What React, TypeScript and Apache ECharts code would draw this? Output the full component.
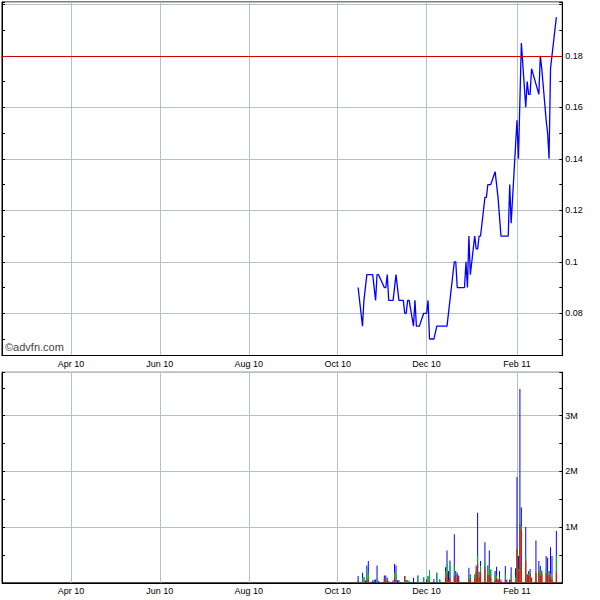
import React, { useEffect, useRef } from "react";
import * as echarts from "echarts";

// ---- axis range & month ticks ----
const axisStartDate = "2010-02-12T17:00:00Z";
const axisEndDate = "2011-03-04T02:00:00Z";
const monthTicks = ["2010-04-01", "2010-06-01", "2010-08-01", "2010-10-01", "2010-12-01", "2011-02-01"];
const priceLabelValues = [0.08, 0.1, 0.12, 0.14, 0.16, 0.18];
const volumeLabelValues = [1000, 2000, 3000]; // thousands of shares
const referencePrice = 0.18;

// ---- price (vertices) ----
const priceDates = [
  "2010-10-15", "2010-10-18", "2010-10-19", "2010-10-21", "2010-10-25", "2010-10-27", "2010-10-28", "2010-10-29",
  "2010-11-02", "2010-11-03", "2010-11-04", "2010-11-05", "2010-11-08", "2010-11-10", "2010-11-12", "2010-11-15",
  "2010-11-16", "2010-11-17", "2010-11-18", "2010-11-19", "2010-11-22", "2010-11-23", "2010-11-24", "2010-11-26",
  "2010-11-29", "2010-12-01", "2010-12-02", "2010-12-03", "2010-12-06", "2010-12-08", "2010-12-15", "2010-12-20",
  "2010-12-21", "2010-12-22", "2010-12-27", "2010-12-28", "2010-12-29", "2010-12-30", "2010-12-31", "2011-01-03",
  "2011-01-04", "2011-01-05", "2011-01-06", "2011-01-07", "2011-01-10", "2011-01-11", "2011-01-12", "2011-01-14",
  "2011-01-17", "2011-01-19", "2011-01-21", "2011-01-26", "2011-01-27", "2011-01-28", "2011-02-01", "2011-02-02",
  "2011-02-04", "2011-02-07", "2011-02-08", "2011-02-09", "2011-02-10", "2011-02-11", "2011-02-16", "2011-02-17",
  "2011-02-18", "2011-02-21", "2011-02-22", "2011-02-23", "2011-02-24", "2011-02-28",
];
const priceValues = [
  0.09, 0.075, 0.085, 0.095, 0.095, 0.085, 0.095, 0.095,
  0.09, 0.09, 0.095, 0.085, 0.085, 0.095, 0.085, 0.085,
  0.08, 0.08, 0.085, 0.085, 0.075, 0.085, 0.075, 0.075,
  0.08, 0.08, 0.085, 0.07, 0.07, 0.075, 0.075, 0.1,
  0.1, 0.09, 0.09, 0.1, 0.09, 0.11, 0.095, 0.11,
  0.105, 0.105, 0.11, 0.11, 0.125, 0.125, 0.13, 0.13,
  0.135, 0.125, 0.11, 0.11, 0.13, 0.115, 0.155, 0.14,
  0.185, 0.16, 0.17, 0.165, 0.165, 0.175, 0.165, 0.18,
  0.175, 0.155, 0.15, 0.14, 0.175, 0.195,
];

// ---- volume (thousands of shares), one entry per trading day ----
const tradingDays = [
  "2010-10-15", "2010-10-18", "2010-10-19", "2010-10-20", "2010-10-21", "2010-10-22", "2010-10-25", "2010-10-26",
  "2010-10-27", "2010-10-28", "2010-10-29", "2010-11-01", "2010-11-02", "2010-11-03", "2010-11-04", "2010-11-05",
  "2010-11-08", "2010-11-09", "2010-11-10", "2010-11-11", "2010-11-12", "2010-11-15", "2010-11-16", "2010-11-17",
  "2010-11-18", "2010-11-19", "2010-11-22", "2010-11-23", "2010-11-24", "2010-11-25", "2010-11-26", "2010-11-29",
  "2010-11-30", "2010-12-01", "2010-12-02", "2010-12-03", "2010-12-06", "2010-12-07", "2010-12-08", "2010-12-09",
  "2010-12-10", "2010-12-13", "2010-12-14", "2010-12-15", "2010-12-16", "2010-12-17", "2010-12-20", "2010-12-21",
  "2010-12-22", "2010-12-23", "2010-12-24", "2010-12-27", "2010-12-28", "2010-12-29", "2010-12-30", "2010-12-31",
  "2011-01-03", "2011-01-04", "2011-01-05", "2011-01-06", "2011-01-07", "2011-01-10", "2011-01-11", "2011-01-12",
  "2011-01-13", "2011-01-14", "2011-01-17", "2011-01-18", "2011-01-19", "2011-01-20", "2011-01-21", "2011-01-24",
  "2011-01-25", "2011-01-26", "2011-01-27", "2011-01-28", "2011-01-31", "2011-02-01", "2011-02-02", "2011-02-03",
  "2011-02-04", "2011-02-07", "2011-02-08", "2011-02-09", "2011-02-10", "2011-02-11", "2011-02-14", "2011-02-15",
  "2011-02-16", "2011-02-17", "2011-02-18", "2011-02-21", "2011-02-22", "2011-02-23", "2011-02-24", "2011-02-25",
  "2011-02-28",
];
const volSell = [
  30, 20, 0, 0, 60, 50, 0, 0, 0, 20, 0, 0, 70, 40, 30, 0,
  0, 100, 50, 0, 0, 0, 120, 0, 0, 0, 0, 0, 0, 0, 0, 0,
  0, 20, 0, 30, 0, 0, 0, 0, 0, 0, 100, 170, 50, 80, 120, 70,
  140, 50, 0, 0, 0, 0, 50, 80, 80, 200, 350, 100, 200, 280, 0, 150,
  140, 80, 50, 80, 60, 100, 0, 50, 20, 0, 0, 50, 20, 610, 200, 1050,
  940, 400, 150, 120, 160, 90, 180, 0, 200, 120, 150, 180, 150, 150, 100, 60,
  200,
];
const volMid = [
  0, 70, 100, 0, 120, 130, 0, 0, 0, 60, 0, 0, 0, 20, 0, 30,
  0, 80, 120, 0, 45, 0, 0, 45, 45, 30, 0, 0, 0, 130, 0, 100,
  0, 0, 120, 190, 0, 0, 180, 0, 60, 0, 100, 160, 0, 250, 180, 0,
  0, 0, 0, 0, 0, 0, 50, 40, 70, 40, 130, 50, 100, 120, 0, 60,
  140, 160, 100, 50, 0, 0, 0, 100, 0, 0, 0, 100, 80, 30, 50, 60,
  80, 60, 0, 40, 30, 0, 10, 0, 30, 100, 30, 70, 30, 0, 60, 40,
  280,
];
const volBuy = [
  90, 90, 0, 40, 130, 210, 40, 60, 60, 230, 30, 0, 60, 70, 60, 0,
  45, 160, 140, 45, 0, 0, 0, 0, 0, 0, 90, 0, 0, 0, 0, 0,
  0, 40, 0, 0, 70, 0, 0, 0, 0, 0, 80, 250, 160, 70, 570, 140,
  40, 80, 0, 0, 0, 0, 170, 30, 0, 70, 780, 50, 90, 330, 0, 100,
  300, 0, 60, 160, 0, 110, 60, 150, 40, 0, 60, 130, 160, 1260, 230, 2370,
  330, 540, 0, 50, 60, 0, 570, 0, 160, 80, 40, 230, 270, 60, 480, 380,
  450,
];

const MONTHS = ["Jan", "Feb", "Mar", "Apr", "May", "Jun", "Jul", "Aug", "Sep", "Oct", "Nov", "Dec"];
const toTs = (d: string) => Date.parse(d.length === 10 ? d + "T00:00:00Z" : d);
const fmtDate = (v: number) => {
  const d = new Date(v);
  return MONTHS[d.getUTCMonth()] + " " + String(d.getUTCFullYear() % 100).padStart(2, "0");
};

const FONT = "Liberation Sans, Arial, sans-serif";
const GRID_COLOR = "#b4c2c2";

export default function App() {
  const ref = useRef<HTMLDivElement>(null);

  useEffect(() => {
    if (!ref.current) return;
    const chart = echarts.init(ref.current, undefined, { renderer: "svg" });
    const xMin = toTs(axisStartDate);
    const xMax = toTs(axisEndDate);
    const tickTs = monthTicks.map(toTs);

    const xAxis = (gridIndex: number) => ({
      type: "value",
      gridIndex,
      min: xMin,
      max: xMax,
      axisLine: { show: true, lineStyle: { color: "#000", width: 1 } },
      axisTick: { show: false, customValues: tickTs },
      axisLabel: {
        customValues: tickTs,
        formatter: (v: number) => fmtDate(v),
        margin: 4,
        fontFamily: FONT,
        fontSize: 9,
        color: "#000",
      },
      splitLine: { show: true, lineStyle: { color: GRID_COLOR, width: 1 } },
    });

    const priceAxis = (position: "left" | "right", labels: boolean) => ({
      type: "value",
      gridIndex: 0,
      position,
      min: 0.0636,
      max: 0.2009,
      splitNumber: 7,
      minInterval: 0.02,
      maxInterval: 0.02,
      axisLine: { show: true, lineStyle: { color: "#000", width: 1 } },
      axisTick: { show: true, inside: true, length: 3, lineStyle: { color: "#000" } },
      minorTick: { show: true, splitNumber: 2, length: 3, lineStyle: { color: "#000" } },
      axisLabel: labels
        ? {
            show: true,
            customValues: priceLabelValues,
            formatter: (v: number) => String(Math.round(v * 100) / 100),
            margin: 3,
            fontFamily: FONT,
            fontSize: 9,
            color: "#000",
          }
        : { show: false },
      splitLine: { show: labels, lineStyle: { color: GRID_COLOR, width: 1 } },
    });

    const volAxis = (position: "left" | "right", labels: boolean) => ({
      type: "value",
      gridIndex: 1,
      position,
      min: 0,
      max: 3780,
      interval: 1000,
      axisLine: { show: true, lineStyle: { color: "#000", width: 1 } },
      axisTick: { show: true, inside: true, length: 3, lineStyle: { color: "#000" } },
      minorTick: { show: true, splitNumber: 2, length: 3, lineStyle: { color: "#000" } },
      axisLabel: labels
        ? {
            show: true,
            customValues: volumeLabelValues,
            formatter: (v: number) => v / 1000 + "M",
            margin: 3,
            fontFamily: FONT,
            fontSize: 9,
            color: "#000",
          }
        : { show: false },
      splitLine: { show: labels, lineStyle: { color: GRID_COLOR, width: 1 } },
    });

    // stacked look: draw the cumulative tops back to front (buy on top of mid on top of sell)
    const topOfBuy = tradingDays.map((d, i) => [toTs(d), volSell[i] + volMid[i] + volBuy[i]]);
    const topOfMid = tradingDays.map((d, i) => [toTs(d), volSell[i] + volMid[i]]);
    const topOfSell = tradingDays.map((d, i) => [toTs(d), volSell[i]]);
    const barCommon = {
      type: "bar",
      xAxisIndex: 1,
      yAxisIndex: 2,
      barWidth: 1,
      barGap: "-100%",
    };

    chart.setOption({
      animation: false,
      backgroundColor: "#fff",
      grid: [
        { left: 2, right: 37.7, top: 2, bottom: 244.5, show: true, borderColor: "#000", borderWidth: 1, backgroundColor: "#fff" },
        { left: 2, right: 37.7, top: 372.3, bottom: 17.2, show: true, borderColor: "#000", borderWidth: 1, backgroundColor: "#fff" },
      ],
      xAxis: [xAxis(0), xAxis(1)],
      yAxis: [priceAxis("right", true), priceAxis("left", false), volAxis("right", true), volAxis("left", false)],
      graphic: [
        {
          type: "text",
          left: 5,
          top: 341,
          style: { text: "©advfn.com", font: "11px " + FONT, fill: "#444" },
        },
      ],
      series: [
        {
          type: "line",
          xAxisIndex: 0,
          yAxisIndex: 0,
          data: priceDates.map((d, i) => [toTs(d), priceValues[i]]),
          showSymbol: false,
          symbol: "none",
          lineStyle: { color: "#0000ff", width: 1.3 },
          markLine: {
            silent: true,
            symbol: "none",
            label: { show: false },
            lineStyle: { color: "#d00000", width: 1, type: "solid" },
            data: [{ yAxis: referencePrice }],
          },
          z: 3,
        },
        { ...barCommon, name: "buy", data: topOfBuy, itemStyle: { color: "#0000ff" }, z: 2 },
        { ...barCommon, name: "mid", data: topOfMid, itemStyle: { color: "#00c800" }, z: 3 },
        { ...barCommon, name: "sell", data: topOfSell, itemStyle: { color: "#ff0000" }, z: 4 },
      ],
    });
    return () => chart.dispose();
  }, []);

  return <div ref={ref} style={{ position: "fixed", left: 0, top: 0, width: 600, height: 600 }} />;
}
